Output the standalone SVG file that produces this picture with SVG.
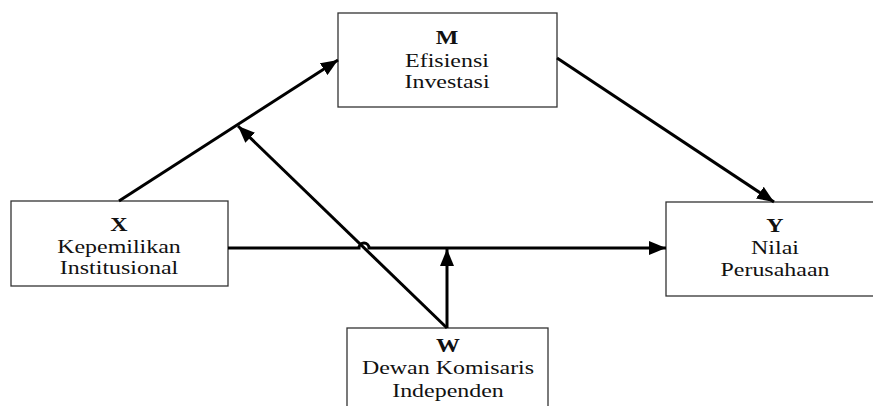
<svg xmlns="http://www.w3.org/2000/svg" width="873" height="406" viewBox="0 0 873 406">
<style>
.box{fill:#fff;stroke:#333;stroke-width:1.3}
.t{font-family:"Liberation Serif","Times New Roman",serif;font-size:19px;fill:#111;text-anchor:middle}
.b{font-weight:bold}
.c{fill:none;stroke:#000;stroke-width:3}
</style>
<defs>
<marker id="ah" markerUnits="userSpaceOnUse" markerWidth="18" markerHeight="14" refX="17" refY="7" orient="auto">
<path d="M0,0 L17,7 L0,14 z" fill="#000"/>
</marker>
</defs>
<rect width="873" height="406" fill="#fff"/>
<g id="node-M">
<rect class="box" x="338" y="13" width="219" height="94"/>
<text class="t b" transform="translate(447,44) scale(1.26,1)">M</text>
<text class="t" transform="translate(447,66.5) scale(1.26,1)">Efisiensi</text>
<text class="t" transform="translate(447,88) scale(1.26,1)">Investasi</text>
</g>
<g id="node-X">
<rect class="box" x="11" y="201" width="217" height="85"/>
<text class="t b" transform="translate(119,231) scale(1.26,1)">X</text>
<text class="t" transform="translate(119,253) scale(1.26,1)">Kepemilikan</text>
<text class="t" transform="translate(119,274) scale(1.26,1)">Institusional</text>
</g>
<g id="node-Y">
<rect class="box" x="666" y="202" width="218" height="94"/>
<text class="t b" transform="translate(775,232) scale(1.26,1)">Y</text>
<text class="t" transform="translate(775,254) scale(1.26,1)">Nilai</text>
<text class="t" transform="translate(775,276) scale(1.26,1)">Perusahaan</text>
</g>
<g id="node-W">
<rect class="box" x="347" y="328" width="201" height="100"/>
<text class="t b" transform="translate(448,352) scale(1.26,1)">W</text>
<text class="t" transform="translate(448,374) scale(1.26,1)">Dewan Komisaris</text>
<text class="t" transform="translate(448,396.5) scale(1.26,1)">Independen</text>
</g>
<g id="connectors">
<path class="c" d="M119,201 L338,60" marker-end="url(#ah)"/>
<path class="c" d="M557,58 L774,202" marker-end="url(#ah)"/>
<path class="c" d="M228,248 H359 A5,5 0 0 1 369,248 H666" marker-end="url(#ah)"/>
<path class="c" d="M447,328 L238,126" marker-end="url(#ah)"/>
<path class="c" d="M447,328 L447,249" marker-end="url(#ah)"/>
</g>
</svg>
